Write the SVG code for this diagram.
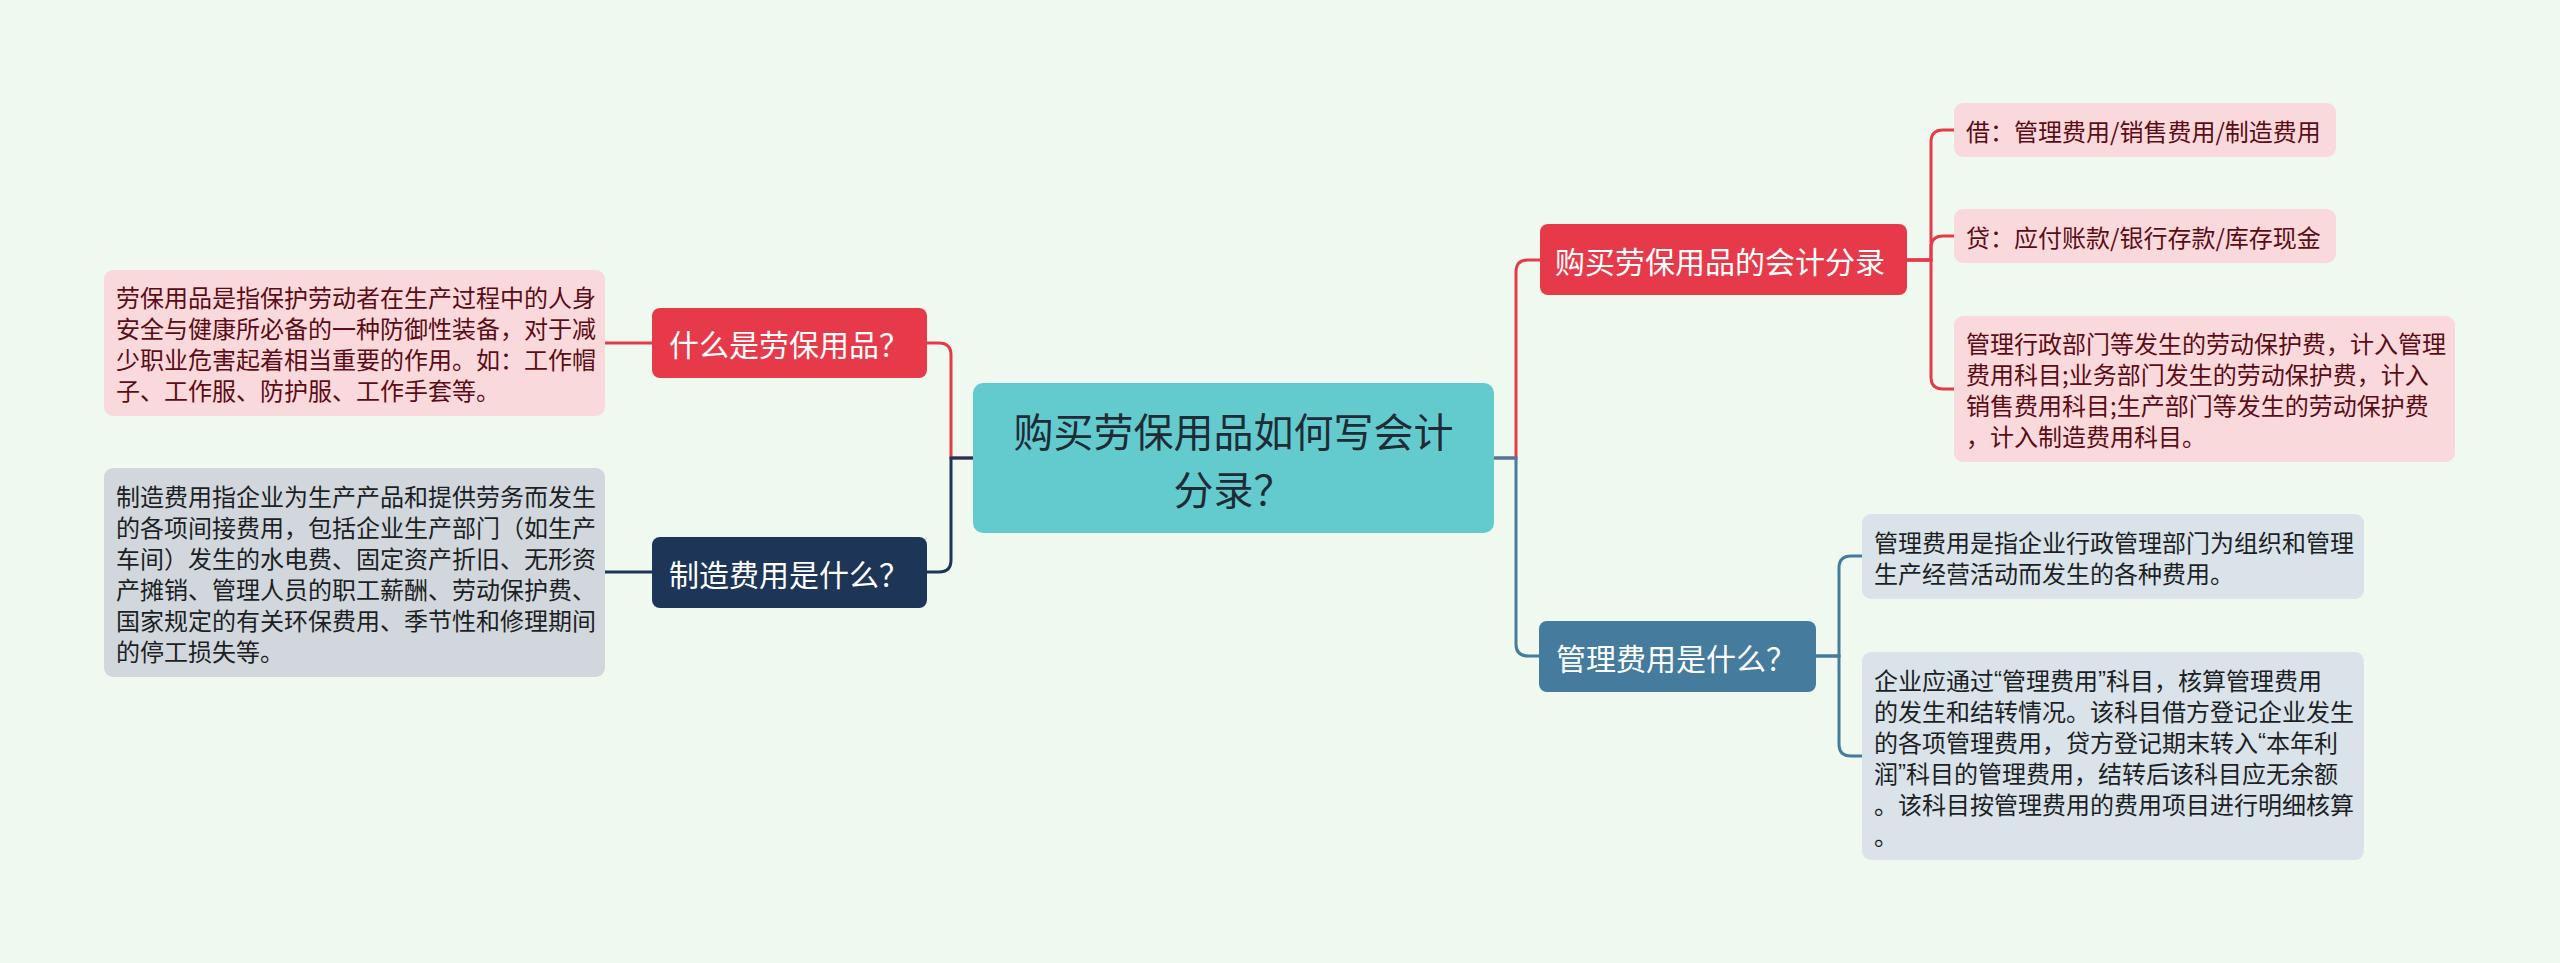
<svg xmlns="http://www.w3.org/2000/svg" width="2560" height="963" viewBox="0 0 2560 963">
<style>
text{font-family:"Noto Sans CJK SC","Noto Sans",sans-serif;dominant-baseline:central}
.t{font-size:24px}
.tp{fill:#5a0d16}
.tg{fill:#1c1f24}
.lbl{font-size:30px;fill:#ffffff}
.q{font-family:"Liberation Sans","Noto Sans",sans-serif}
.c{fill:none;stroke-width:3}
.red{stroke:#e63a4a}
.navy{stroke:#1d3557}
.blue{stroke:#457b9d}
</style>
<rect x="0" y="0" width="2560" height="963" fill="#f0f9ef"/>
<g id="connectors">
<path class="c red" d="M973 458 H951 V355 Q951 343 939 343 H927"/>
<path class="c navy" d="M973 458 H951 V560 Q951 572 939 572 H927"/>
<path class="c red" d="M652 343 H605"/>
<path class="c navy" d="M652 572 H605"/>
<path class="c red" d="M1494 458 H1516 V272 Q1516 260 1528 260 H1540"/>
<path class="c blue" d="M1494 458 H1516 V644 Q1516 656 1528 656 H1539"/>
<path class="c red" d="M1907 260 H1931 V142 Q1931 130 1943 130 H1954"/>
<path class="c red" d="M1907 260 H1931 V248 Q1931 236 1943 236 H1954"/>
<path class="c red" d="M1907 260 H1931 V377 Q1931 389 1943 389 H1954"/>
<path class="c blue" d="M1816 656 H1839 V568 Q1839 556 1851 556 H1862"/>
<path class="c blue" d="M1816 656 H1839 V744 Q1839 756 1851 756 H1862"/>
</g>
<g id="root">
<rect x="973" y="383" width="521" height="150" rx="10" fill="#63cbce"/>
<text x="1233.5" y="430" text-anchor="middle" font-size="40" fill="#1f2b37">购买劳保用品如何写会计</text>
<text x="1233.5" y="488" text-anchor="middle" font-size="40" fill="#1f2b37">分录？</text>
</g>
<g id="n-what-labor">
<rect x="652" y="308" width="275" height="70" rx="8" fill="#e63a4a"/>
<text class="lbl" x="669" y="343">什么是劳保用品？</text>
</g>
<g id="n-what-labor-desc">
<rect x="104" y="270" width="501" height="146" rx="9" fill="#fad9dc"/>
<text class="t tp" x="116" y="296.5">劳保用品是指保护劳动者在生产过程中的人身</text>
<text class="t tp" x="116" y="327.5">安全与健康所必备的一种防御性装备，对于减</text>
<text class="t tp" x="116" y="358.5">少职业危害起着相当重要的作用。如：工作帽</text>
<text class="t tp" x="116" y="389.5">子、工作服、防护服、工作手套等。</text>
</g>
<g id="n-mfg">
<rect x="652" y="537" width="275" height="71" rx="8" fill="#1d3557"/>
<text class="lbl" x="669" y="572.5">制造费用是什么？</text>
</g>
<g id="n-mfg-desc">
<rect x="104" y="468" width="501" height="209" rx="9" fill="#d2d7de"/>
<text class="t tg" x="116" y="495">制造费用指企业为生产产品和提供劳务而发生</text>
<text class="t tg" x="116" y="526">的各项间接费用，包括企业生产部门（如生产</text>
<text class="t tg" x="116" y="557">车间）发生的水电费、固定资产折旧、无形资</text>
<text class="t tg" x="116" y="588">产摊销、管理人员的职工薪酬、劳动保护费、</text>
<text class="t tg" x="116" y="619">国家规定的有关环保费用、季节性和修理期间</text>
<text class="t tg" x="116" y="650">的停工损失等。</text>
</g>
<g id="n-entry">
<rect x="1540" y="224" width="367" height="71" rx="8" fill="#e63a4a"/>
<text class="lbl" x="1555" y="259.5">购买劳保用品的会计分录</text>
</g>
<g id="n-debit">
<rect x="1954" y="103" width="382" height="54" rx="9" fill="#fad9dc"/>
<text class="t tp" x="1966" y="130">借：管理费用/销售费用/制造费用</text>
</g>
<g id="n-credit">
<rect x="1954" y="209" width="382" height="54" rx="9" fill="#fad9dc"/>
<text class="t tp" x="1966" y="236">贷：应付账款/银行存款/库存现金</text>
</g>
<g id="n-entry-desc">
<rect x="1954" y="316" width="501" height="146" rx="9" fill="#fad9dc"/>
<text class="t tp" x="1966" y="342.5">管理行政部门等发生的劳动保护费，计入管理</text>
<text class="t tp" x="1966" y="373.5">费用科目;业务部门发生的劳动保护费，计入</text>
<text class="t tp" x="1966" y="404.5">销售费用科目;生产部门等发生的劳动保护费</text>
<text class="t tp" x="1966" y="435.5">，计入制造费用科目。</text>
</g>
<g id="n-admin">
<rect x="1539" y="621" width="277" height="71" rx="8" fill="#457b9d"/>
<text class="lbl" x="1556" y="656.5">管理费用是什么？</text>
</g>
<g id="n-admin-def">
<rect x="1862" y="514" width="502" height="85" rx="9" fill="#dae3ea"/>
<text class="t tg" x="1874" y="541">管理费用是指企业行政管理部门为组织和管理</text>
<text class="t tg" x="1874" y="572">生产经营活动而发生的各种费用。</text>
</g>
<g id="n-admin-acct">
<rect x="1862" y="652" width="502" height="208" rx="9" fill="#dae3ea"/>
<text class="t tg" x="1874" y="679">企业应通过<tspan class="q">“</tspan>管理费用<tspan class="q">”</tspan>科目，核算管理费用</text>
<text class="t tg" x="1874" y="710">的发生和结转情况。该科目借方登记企业发生</text>
<text class="t tg" x="1874" y="741">的各项管理费用，贷方登记期末转入<tspan class="q">“</tspan>本年利</text>
<text class="t tg" x="1874" y="772">润<tspan class="q">”</tspan>科目的管理费用，结转后该科目应无余额</text>
<text class="t tg" x="1874" y="803">。该科目按管理费用的费用项目进行明细核算</text>
<text class="t tg" x="1874" y="834">。</text>
</g>
</svg>
